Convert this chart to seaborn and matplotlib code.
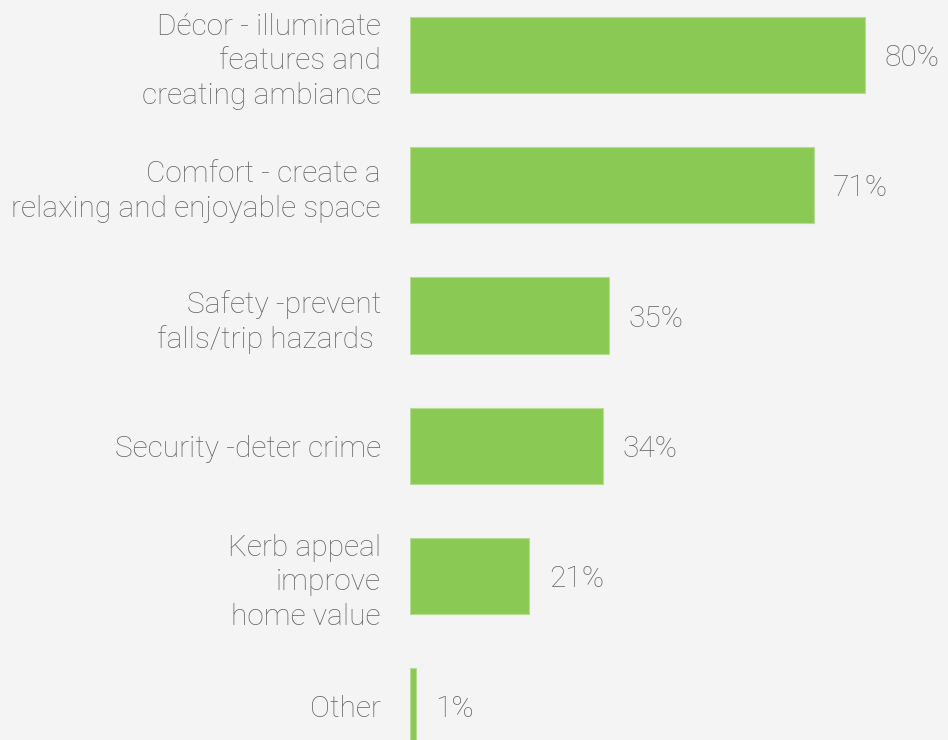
import matplotlib.pyplot as plt
import seaborn as sns
import pandas as pd

labels = [
    "Décor - illuminate\nfeatures and\ncreating ambiance",
    "Comfort - create a\nrelaxing and enjoyable space",
    "Safety -prevent\nfalls/trip hazards ",
    "Security -deter crime",
    "Kerb appeal\nimprove\nhome value",
    "Other",
]
values = [80, 71, 35, 34, 21, 1]

df = pd.DataFrame({"label": labels, "value": values})

sns.set_theme(style="white")
plt.rcParams["font.family"] = ["Roboto", "DejaVu Sans"]
plt.rcParams["font.weight"] = "light"

bg = "#f4f4f4"
green = "#8bc955"
txt = "#666666"

fig = plt.figure(figsize=(9.48, 7.4), dpi=100, facecolor=bg)
ax = fig.add_axes([410 / 948, 0, 538 / 948, 1])
ax.set_facecolor(bg)

sns.barplot(data=df, y="label", x="value", orient="h", color=green,
            saturation=1, width=0.585, ax=ax, edgecolor="#b5dc92", linewidth=0.8)

ax.set_xlim(0, 94.6)
ax.set_ylim(5.26, -0.423)
ax.set_xlabel("")
ax.set_ylabel("")
ax.set_xticks([])
ax.tick_params(axis="y", length=0, pad=21, labelsize=21.5, labelcolor=txt)
for t in ax.get_yticklabels():
    t.set_horizontalalignment("right")
    t.set_multialignment("right")
    t.set_linespacing(1.3)
    t.set_fontweight("light")
for s in ax.spines.values():
    s.set_visible(False)

for c in ax.containers:
    for t in ax.bar_label(c, labels=[f"{v}%" for v in values], padding=14,
                          fontsize=21.5, color=txt, fontweight="light"):
        t.set_verticalalignment("center_baseline")

fig.savefig("out.png", dpi=100, facecolor=bg)
